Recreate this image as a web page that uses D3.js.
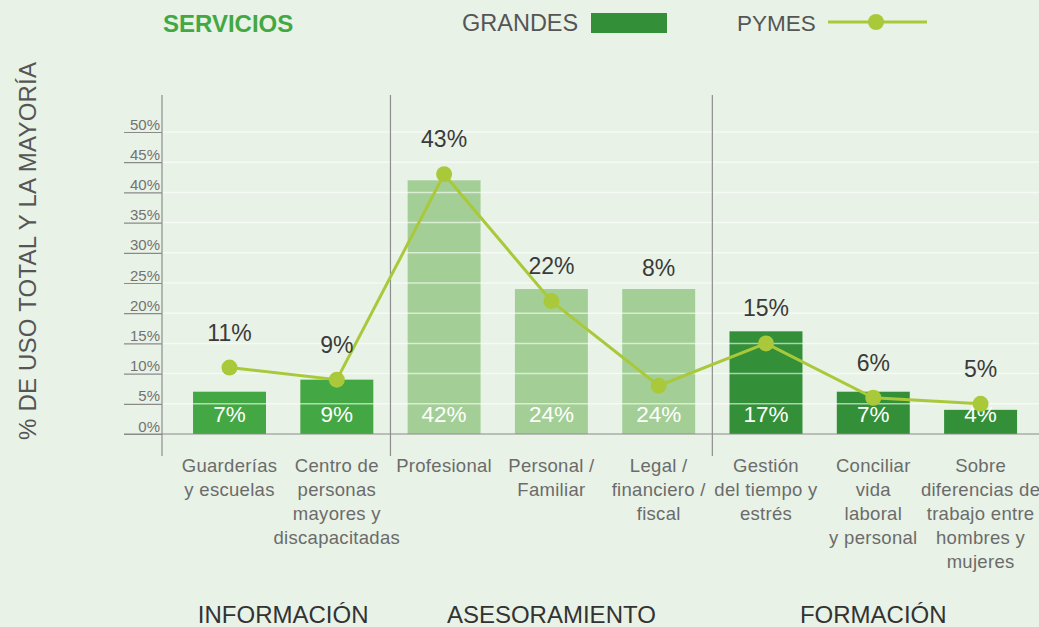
<!DOCTYPE html>
<html>
<head>
<meta charset="utf-8">
<script src="https://cdn.jsdelivr.net/npm/d3@7"></script>
<style>
  html, body { margin: 0; padding: 0; background: #e8f2e6; }
  svg { display: block; font-family: "Liberation Sans", Arial, sans-serif; }
</style>
</head>
<body>
<div></div>
<script>
const WIDTH = 1039;
const HEIGHT = 627;

// data
const categories = [
  ['Guarderías', 'y escuelas'],
  ['Centro de', 'personas', 'mayores y', 'discapacitadas'],
  ['Profesional'],
  ['Personal /', 'Familiar'],
  ['Legal /', 'financiero /', 'fiscal'],
  ['Gestión', 'del tiempo y', 'estrés'],
  ['Conciliar', 'vida', 'laboral', 'y personal'],
  ['Sobre', 'diferencias de', 'trabajo entre', 'hombres y', 'mujeres']
];
const groupOf = [0, 0, 1, 1, 1, 2, 2, 2];
const groups = ['INFORMACIÓN', 'ASESORAMIENTO', 'FORMACIÓN'];
const groupColors = ['#43a843', '#a3cf96', '#338f38'];
const grandes = [7, 9, 42, 24, 24, 17, 7, 4];
const pymes = [11, 9, 43, 22, 8, 15, 6, 5];
const yTicks = [0, 5, 10, 15, 20, 25, 30, 35, 40, 45, 50];

const LINE_COLOR = '#a9c93b';

const div = d3.select('div');
const svg = div.append('svg')
    .attr('width', WIDTH)
    .attr('height', HEIGHT);

svg.append('rect')
    .attr('width', WIDTH)
    .attr('height', HEIGHT)
    .attr('fill', '#e8f2e6');

// scales
const idx = d3.range(categories.length);
const x = d3.scaleBand()
    .domain(idx)
    .range([158.7, 1051.4])
    .paddingInner(0.32)
    .paddingOuter(0.32);
const y = d3.scaleLinear()
    .domain([0, 50])
    .range([434, 132]);

const AXIS_X = 162;
const cx = i => x(i) + x.bandwidth() / 2;

// bars
svg.append('g').selectAll('rect')
    .data(idx)
    .join('rect')
    .attr('x', i => x(i))
    .attr('y', i => y(grandes[i]))
    .attr('width', x.bandwidth())
    .attr('height', i => y(0) - y(grandes[i]))
    .attr('fill', i => groupColors[groupOf[i]]);

// grid lines (over bars)
svg.append('g').selectAll('line')
    .data(yTicks.filter(t => t > 0))
    .join('line')
    .attr('x1', AXIS_X)
    .attr('x2', WIDTH)
    .attr('y1', d => y(d))
    .attr('y2', d => y(d))
    .attr('stroke', '#ffffff')
    .attr('stroke-opacity', 0.6)
    .attr('stroke-width', 1.5);

// y axis: ticks to the left, labels sitting above the tick line
const yAxis = d3.axisLeft(y)
    .tickValues(yTicks)
    .tickSize(AXIS_X - 124)
    .tickFormat(d => d + '%');
const yAxisG = svg.append('g')
    .attr('transform', 'translate(' + AXIS_X + ',0)')
    .call(yAxis);
yAxisG.select('.domain').remove();
yAxisG.selectAll('.tick line')
    .attr('stroke', '#8a8a8a')
    .attr('stroke-width', 1.2);
yAxisG.selectAll('.tick text')
    .attr('x', -2)
    .attr('dy', -3)
    .attr('fill', '#727272')
    .attr('font-size', 15)
    .attr('text-anchor', 'end');

// baseline
svg.append('line')
    .attr('x1', 124)
    .attr('x2', WIDTH)
    .attr('y1', y(0))
    .attr('y2', y(0))
    .attr('stroke', '#8a8a8a')
    .attr('stroke-width', 1.2);

// vertical lines: axis and group separators
const gap = x.step() * x.paddingInner();
const separators = [AXIS_X, x(1) + x.bandwidth() + gap / 2, x(4) + x.bandwidth() + gap / 2];
svg.append('g').selectAll('line')
    .data(separators)
    .join('line')
    .attr('x1', d => d)
    .attr('x2', d => d)
    .attr('y1', 95)
    .attr('y2', 456)
    .attr('stroke', '#8e8e8e')
    .attr('stroke-width', 1.2);

// inner bar labels
svg.append('g').selectAll('text')
    .data(idx)
    .join('text')
    .attr('x', cx)
    .attr('y', 422)
    .attr('text-anchor', 'middle')
    .attr('fill', '#ffffff')
    .attr('font-size', 22.5)
    .text(i => grandes[i] + '%');

// pymes line
const line = d3.line()
    .x(cx)
    .y(i => y(pymes[i]));
svg.append('path')
    .datum(idx)
    .attr('d', line)
    .attr('fill', 'none')
    .attr('stroke', LINE_COLOR)
    .attr('stroke-width', 3);
svg.append('g').selectAll('circle')
    .data(idx)
    .join('circle')
    .attr('cx', cx)
    .attr('cy', i => y(pymes[i]))
    .attr('r', 8)
    .attr('fill', LINE_COLOR);

// pymes value labels: above the point, but never inside the bar
svg.append('g').selectAll('text')
    .data(idx)
    .join('text')
    .attr('x', cx)
    .attr('y', i => Math.min(y(pymes[i]) - 27, y(grandes[i]) - 13))
    .attr('text-anchor', 'middle')
    .attr('fill', '#3a3a3a')
    .attr('font-size', 23)
    .text(i => pymes[i] + '%');

// category labels
const catG = svg.append('g').selectAll('text')
    .data(idx)
    .join('text')
    .attr('text-anchor', 'middle')
    .attr('fill', '#6b6b6b')
    .attr('font-size', 18.5)
    .attr('letter-spacing', 0.3);
catG.selectAll('tspan')
    .data(i => categories[i].map(t => ({ i: i, t: t })))
    .join('tspan')
    .attr('x', d => cx(d.i))
    .attr('y', (d, k) => 472 + k * 24)
    .text(d => d.t);

// group labels
const groupCenters = [
  (x(0) + x(1) + x.bandwidth()) / 2,
  (x(2) + x(4) + x.bandwidth()) / 2,
  (x(5) + x(7) + x.bandwidth()) / 2
];
svg.append('g').selectAll('text')
    .data(groups)
    .join('text')
    .attr('x', (d, k) => groupCenters[k])
    .attr('y', 623)
    .attr('text-anchor', 'middle')
    .attr('fill', '#333333')
    .attr('font-size', 24)
    .text(d => d);

// y title
svg.append('text')
    .attr('transform', 'translate(36,251) rotate(-90)')
    .attr('text-anchor', 'middle')
    .attr('fill', '#555555')
    .attr('font-size', 24)
    .attr('textLength', 378)
    .text('% DE USO TOTAL Y LA MAYORÍA');

// header: title + legend
svg.append('text')
    .attr('x', 163)
    .attr('y', 32)
    .attr('fill', '#43a843')
    .attr('font-size', 24)
    .attr('font-weight', 'bold')
    .text('SERVICIOS');

svg.append('text')
    .attr('x', 462)
    .attr('y', 31)
    .attr('fill', '#555555')
    .attr('font-size', 23.5)
    .text('GRANDES');
svg.append('rect')
    .attr('x', 591)
    .attr('y', 13)
    .attr('width', 76)
    .attr('height', 20)
    .attr('fill', '#338f38');

svg.append('text')
    .attr('x', 737)
    .attr('y', 31)
    .attr('fill', '#555555')
    .attr('font-size', 22.5)
    .text('PYMES');
svg.append('line')
    .attr('x1', 828)
    .attr('x2', 927)
    .attr('y1', 22)
    .attr('y2', 22)
    .attr('stroke', LINE_COLOR)
    .attr('stroke-width', 3);
svg.append('circle')
    .attr('cx', 876)
    .attr('cy', 22)
    .attr('r', 8)
    .attr('fill', LINE_COLOR);
</script>
</body>
</html>
